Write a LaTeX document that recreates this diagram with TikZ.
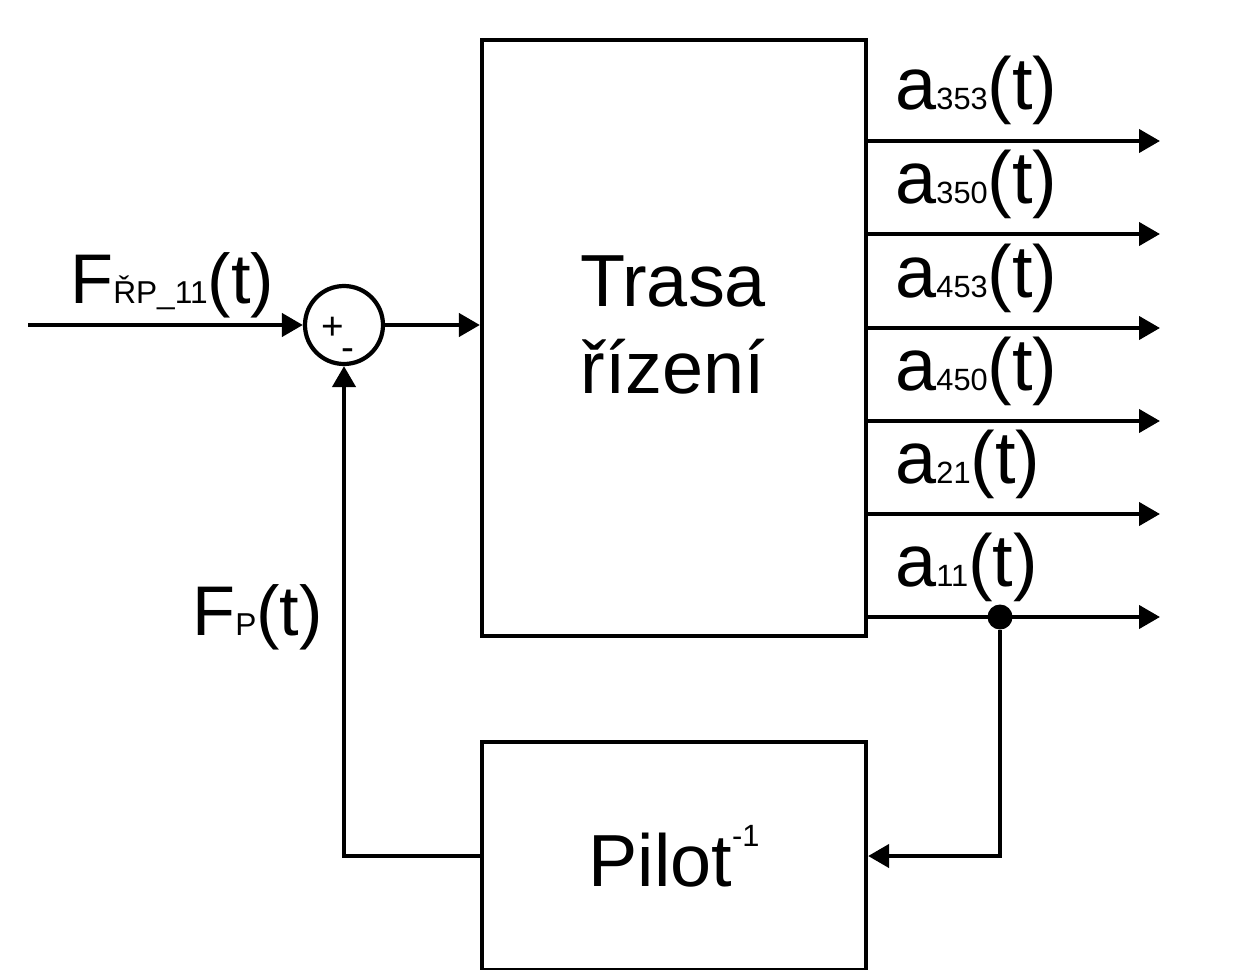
\documentclass[tikz,border=0pt]{standalone}
\usepackage{fontspec}
\setmainfont{Liberation Sans}
\usetikzlibrary{arrows.meta,positioning}
\newcommand{\lbl}[1]{{\fontsize{17.5}{19}\selectfont #1}}

\begin{document}
\begin{tikzpicture}[
    block/.style={draw, line width=2.4pt, minimum width=7.68cm, inner sep=0pt},
    sig/.style={line width=2.4pt, -{Triangle[length=0.42cm,width=0.46cm]}},
    bigtext/.style={font=\fontsize{42}{49}\selectfont, inner sep=0pt},
    signtext/.style={font=\fontsize{22}{24}\selectfont, inner sep=0pt}
]
    \useasboundingbox (0,0) rectangle (25.08,-19.4);

    % Blocks
    \node[block, minimum height=11.92cm] (plant) at (13.48,-6.76) {};
    \node[bigtext, align=center] (plantname) at (13.46,-6.5) {Trasa\\řízení};
    \node[block, minimum height=4.56cm, bigtext] (pilot) at (13.48,-17.12)
        {Pilot\raisebox{0.8cm}{\lbl{-1}}};

    % Summing junction
    \node[circle, draw, line width=2.4pt, minimum size=1.56cm, inner sep=0pt] (sum) at (6.88,-6.5) {};
    \node[signtext] (plus) at (6.66,-6.56) {+};
    \node[signtext] (minus) at (6.96,-7.1) {-};

    % Input
    \coordinate (in) at (0.56,-6.5);
    \draw[sig] (in) -- (sum.west);
    \draw[sig] (sum.east) -- (plant.west |- sum.east);
    \node[bigtext, anchor=base west, font=\fontsize{40}{46}\selectfont] (fin) at (1.4,-6.06)
        {F{\fontsize{18}{20}\selectfont ŘP\_11}(t)};

    % Outputs
    \foreach \y/\s [count=\i] in {-2.82/353, -4.68/350, -6.56/453, -8.42/450, -10.28/21, -12.34/11} {
        \coordinate (out\i) at (23.2,\y);
        \draw[sig] (plant.east |- out\i) -- (out\i);
        \node[bigtext, anchor=base west] (a\s) at (17.9,\y+0.62) {a\lbl{\s}(t)};
    }

    % Feedback
    \node[circle, fill, minimum size=0.5cm, inner sep=0pt] (tap) at (20,-12.34) {};
    \draw[sig] (tap) |- (pilot.east);
    \draw[sig] (pilot.west) -| (sum.south);
    \node[bigtext, anchor=base west, font=\fontsize{40}{46}\selectfont] (fp) at (3.84,-12.7)
        {F{\fontsize{18}{20}\selectfont P}(t)};
\end{tikzpicture}
\end{document}
